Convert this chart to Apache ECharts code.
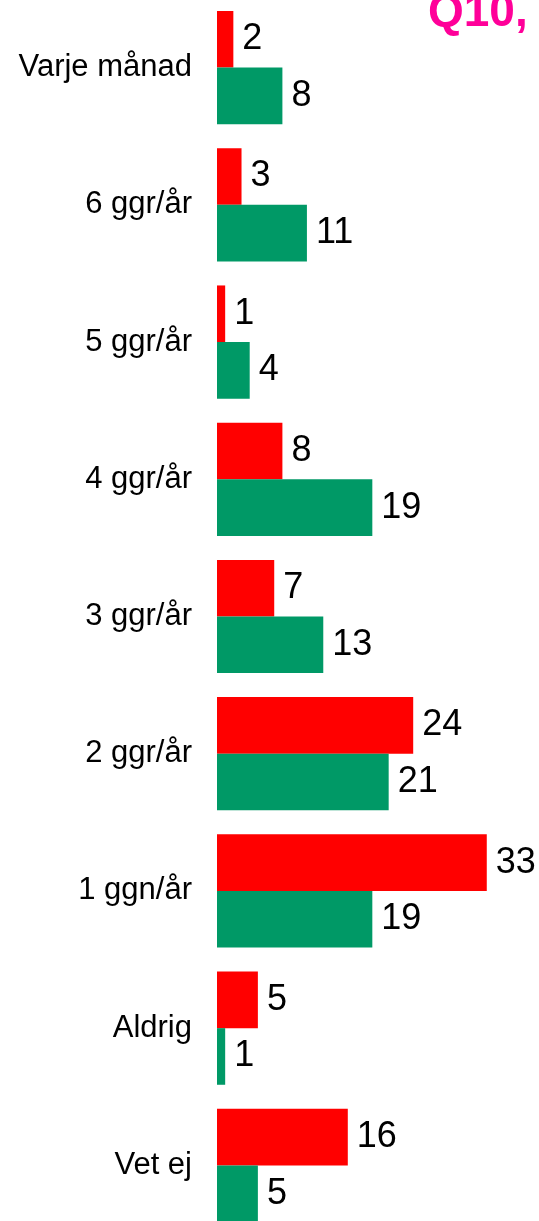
<!DOCTYPE html>
<html>
<head>
<meta charset="utf-8">
<script src="https://cdn.jsdelivr.net/npm/echarts@6/dist/echarts.min.js"></script>
<style>
  html, body { margin: 0; padding: 0; background: #fff; }
  #chart { width: 539px; height: 1221px; }
</style>
</head>
<body>
<div id="chart"></div>
<script>
// kategorier uppifrån och ned
const categories = ['Varje månad', '6 ggr/år', '5 ggr/år', '4 ggr/år', '3 ggr/år', '2 ggr/år', '1 ggn/år', 'Aldrig', 'Vet ej'];
const redValues = [2, 3, 1, 8, 7, 24, 33, 5, 16];
const greenValues = [8, 11, 4, 19, 13, 21, 19, 1, 5];
const titleText = 'Q10,';

const font = '"Liberation Sans", Arial, sans-serif';

const chart = echarts.init(document.getElementById('chart'));

const valueLabel = {
    show: true,
    position: 'right',
    distance: 9,
    color: '#000',
    fontSize: 36,
    fontFamily: font
};

chart.setOption({
    animation: false,
    title: {
        text: titleText,
        left: 428,
        top: -10,
        padding: 0,
        textStyle: {
            color: '#FF0099',
            fontSize: 46,
            fontWeight: 'bold',
            fontFamily: font,
            lineHeight: 46
        }
    },
    grid: {
        left: 217,
        top: -1,
        width: 327,
        height: 1235,
        outerBoundsMode: 'none'
    },
    xAxis: {
        type: 'value',
        min: 0,
        max: 40,
        show: false
    },
    yAxis: {
        type: 'category',
        data: categories,
        inverse: true,
        axisLine: { show: false },
        axisTick: { show: false },
        axisLabel: {
            margin: 25,
            color: '#000',
            fontSize: 31,
            fontFamily: font
        }
    },
    series: [
        {
            type: 'bar',
            data: redValues,
            barGap: '0%',
            barCategoryGap: '17.5%',
            itemStyle: { color: '#FF0000' },
            label: valueLabel
        },
        {
            type: 'bar',
            data: greenValues,
            barGap: '0%',
            barCategoryGap: '17.5%',
            itemStyle: { color: '#009966' },
            label: valueLabel
        }
    ]
});
</script>
</body>
</html>
